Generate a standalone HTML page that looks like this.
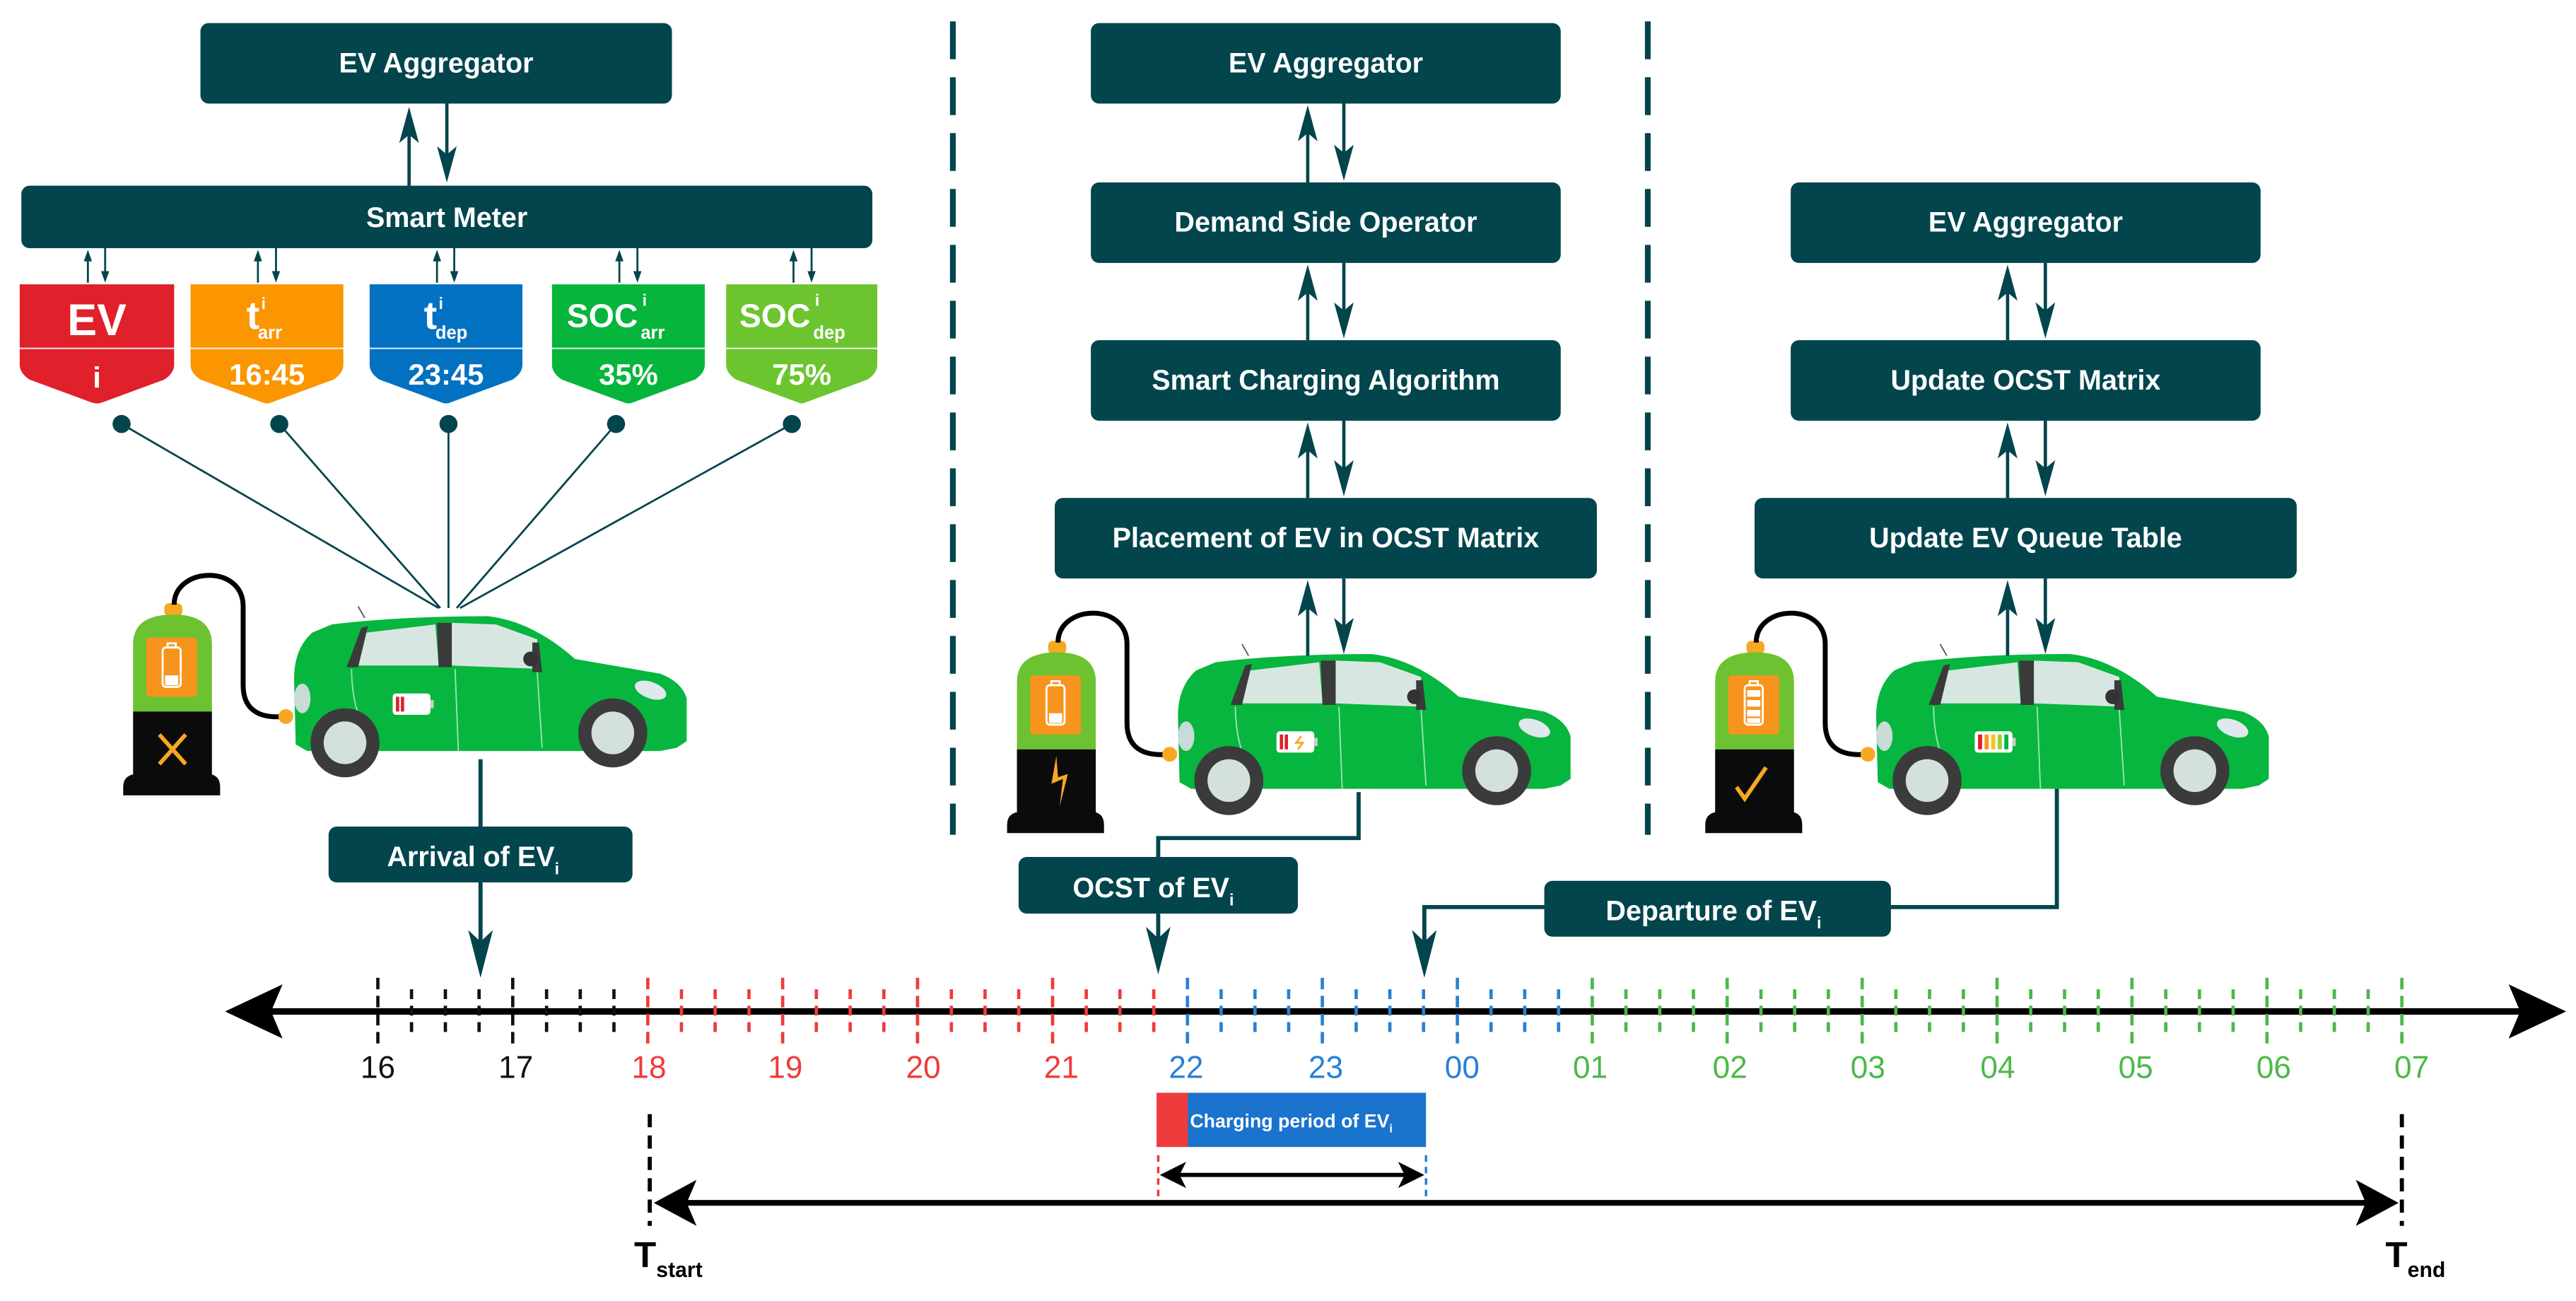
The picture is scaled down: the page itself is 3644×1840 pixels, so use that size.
<!DOCTYPE html>
<html><head><meta charset="utf-8"><style>
html,body{margin:0;padding:0;background:#fff;}
svg{display:block;}
text{font-family:"Liberation Sans",sans-serif;}
.bx{fill:#02454d;}
.bt{fill:#fff;font-weight:bold;font-size:17px;text-anchor:middle;}
.ln{stroke:#02454d;fill:none;}
.ah{fill:#02454d;}
.lab{font-size:19px;text-anchor:middle;}
</style></head><body>
<svg width="3644" height="1840" viewBox="0 0 1568 791.7" xmlns="http://www.w3.org/2000/svg">
<defs>
<g id="car">
  <path d="M717,436 Q717,418 728,408 L740,403 Q780,398 835,398 Q862,401 888,424 L940,433 Q953,438 956,448 L956,474 L950,478 L940,480 L725,480 L718,476 Z" fill="#07b63e"/>
  <path d="M753,428 L761,408 L803,403 L805,428 Z" fill="#d8e6e1"/>
  <path d="M813,428 L813,402 L840,403 L865,412 L865,430 Z" fill="#d8e6e1"/>
  <path d="M749,429 L758,405 L762,404 L756,429 Z M804,402 L813,402 L813,429 L805,429 Z M862,414 L866,414 L868,432 L862,432 Z" fill="#3a3a3a"/>
  <circle cx="861" cy="424" r="4.5" fill="#333"/>
  <ellipse cx="934" cy="443" rx="10" ry="5" fill="#dfe8ec" transform="rotate(20 934 443)"/>
  <ellipse cx="722" cy="448" rx="5" ry="9" fill="#c9dbd6"/>
  <path d="M752,430 Q752,460 768,480 M815,430 L817,480 M865,432 L868,478" stroke="#9be3b0" stroke-width="0.8" fill="none"/>
  <circle cx="748" cy="475" r="21" fill="#3b3b3b"/>
  <circle cx="748" cy="475" r="13" fill="#d3e0dc"/>
  <circle cx="911" cy="469" r="21" fill="#3b3b3b"/>
  <circle cx="911" cy="469" r="13" fill="#d3e0dc"/>
  <line x1="760" y1="399" x2="756" y2="392" stroke="#555" stroke-width="0.8"/>
  <rect x="638" y="390" width="11" height="8" rx="3" fill="#f7a823"/>
  <path d="M619,456 L619,415 Q619,397 643.5,397 Q667,397 667,415 L667,456 Z" fill="#6cc230"/>
  <rect x="627" y="411" width="31" height="36" rx="2" fill="#f7941d"/>
  <rect x="619" y="456" width="48" height="40" fill="#0b0b0b"/>
  <path d="M613,507 L613,502 Q613,494 622,494 L664,494 Q672,494 672,502 L672,507 Z" fill="#0b0b0b"/>
  <path d="M644,391 C644,368 686,366 686,392 L686,440 C686,458 700,460 711,459" stroke="#000" stroke-width="3" fill="none"/>
  <circle cx="712" cy="459" r="4.5" fill="#f7a823"/>
</g>
</defs>

<line x1="580" y1="13" x2="580" y2="508" stroke="#02454d" stroke-width="3.5" stroke-dasharray="23 11"/>
<line x1="1003" y1="13" x2="1003" y2="508" stroke="#02454d" stroke-width="3.5" stroke-dasharray="23 11"/>

<rect class="bx" x="122" y="14" width="287" height="49" rx="5"/>
<text class="bt" x="265.5" y="44">EV Aggregator</text>
<rect class="bx" x="13" y="113" width="518" height="38" rx="5"/>
<text class="bt" x="272" y="138">Smart Meter</text>
<line class="ln" x1="249" y1="113" x2="249" y2="75" stroke-width="2"/>
<path class="ah" d="M249,65 L255,87 L249,82 L243,87 Z"/>
<line class="ln" x1="272" y1="63" x2="272" y2="100" stroke-width="2"/>
<path class="ah" d="M272,111 L278,89 L272,94 L266,89 Z"/>

<g stroke="#02454d" stroke-width="1.2" fill="none">
<line x1="53.5" y1="172" x2="53.5" y2="155"/><line x1="64" y1="151" x2="64" y2="168"/>
<line x1="157" y1="172" x2="157" y2="155"/><line x1="168" y1="151" x2="168" y2="168"/>
<line x1="266" y1="172" x2="266" y2="155"/><line x1="276.5" y1="151" x2="276.5" y2="168"/>
<line x1="377" y1="172" x2="377" y2="155"/><line x1="388" y1="151" x2="388" y2="168"/>
<line x1="483" y1="172" x2="483" y2="155"/><line x1="494" y1="151" x2="494" y2="168"/>
</g>
<g fill="#02454d">
<path d="M53.5,152 L56,159 L51,159 Z"/><path d="M64,172 L66.5,165 L61.5,165 Z"/>
<path d="M157,152 L159.5,159 L154.5,159 Z"/><path d="M168,172 L170.5,165 L165.5,165 Z"/>
<path d="M266,152 L268.5,159 L263.5,159 Z"/><path d="M276.5,172 L279,165 L274,165 Z"/>
<path d="M377,152 L379.5,159 L374.5,159 Z"/><path d="M388,172 L390.5,165 L385.5,165 Z"/>
<path d="M483,152 L485.5,159 L480.5,159 Z"/><path d="M494,172 L496.5,165 L491.5,165 Z"/>
</g>

<g>
<path d="M12,173 L106,173 L106,222 Q106,227 100,231 L62,245 Q59,246 56,245 L18,231 Q12,227 12,222 Z" fill="#e0202a"/>
<path d="M116,173 L209,173 L209,222 Q209,227 203,231 L165,245 Q162.5,246 160,245 L122,231 Q116,227 116,222 Z" fill="#fb9500"/>
<path d="M225,173 L318,173 L318,222 Q318,227 312,231 L274,245 Q271.5,246 269,245 L231,231 Q225,227 225,222 Z" fill="#0371c1"/>
<path d="M336,173 L429,173 L429,222 Q429,227 423,231 L385,245 Q382.5,246 380,245 L342,231 Q336,227 336,222 Z" fill="#05b53c"/>
<path d="M442,173 L534,173 L534,222 Q534,227 528,231 L490,245 Q488,246 486,245 L448,231 Q442,227 442,222 Z" fill="#6cc52f"/>
<g stroke="#fff" stroke-width="1" opacity="0.8">
<line x1="12" y1="212" x2="106" y2="212"/><line x1="116" y1="212" x2="209" y2="212"/>
<line x1="225" y1="212" x2="318" y2="212"/><line x1="336" y1="212" x2="429" y2="212"/>
<line x1="442" y1="212" x2="534" y2="212"/>
</g>
<g fill="#fff" font-weight="bold">
<text x="59" y="204" font-size="27" text-anchor="middle">EV</text>
<text x="59" y="236" font-size="18" text-anchor="middle">i</text>
<text x="150" y="200" font-size="24">t</text><text x="159" y="188" font-size="10">i</text><text x="157" y="206" font-size="11">arr</text>
<text x="162.5" y="234" font-size="18" text-anchor="middle">16:45</text>
<text x="258" y="200" font-size="24">t</text><text x="267" y="188" font-size="10">i</text><text x="265" y="206" font-size="11">dep</text>
<text x="271.5" y="234" font-size="18" text-anchor="middle">23:45</text>
<text x="345" y="199" font-size="20">SOC</text><text x="391" y="186" font-size="10">i</text><text x="390" y="206" font-size="11">arr</text>
<text x="382.5" y="234" font-size="18" text-anchor="middle">35%</text>
<text x="450" y="199" font-size="20">SOC</text><text x="496" y="186" font-size="10">i</text><text x="495" y="206" font-size="11">dep</text>
<text x="488" y="234" font-size="18" text-anchor="middle">75%</text>
</g>
</g>
<g fill="#02454d">
<circle cx="74" cy="258" r="5.5"/><circle cx="170" cy="258" r="5.5"/><circle cx="273" cy="258" r="5.5"/><circle cx="375" cy="258" r="5.5"/><circle cx="482" cy="258" r="5.5"/>
</g>
<g stroke="#02454d" stroke-width="1.2">
<line x1="74" y1="258" x2="267" y2="370"/><line x1="170" y1="258" x2="268" y2="370"/>
<line x1="273" y1="258" x2="273" y2="370"/><line x1="375" y1="258" x2="278" y2="370"/>
<line x1="482" y1="258" x2="280" y2="370"/>
</g>

<use href="#car" transform="translate(-538,-23)"/>
<use href="#car"/>
<use href="#car" transform="translate(425,0)"/>

<g fill="none" stroke="#fff" stroke-width="1.2">
<rect x="637" y="417" width="11" height="24" rx="2"/><rect x="640" y="414.5" width="5" height="2.5"/>
<rect x="99" y="394" width="11" height="24" rx="2"/><rect x="102" y="391.5" width="5" height="2.5"/>
<rect x="1062" y="417" width="11" height="24" rx="2"/><rect x="1065" y="414.5" width="5" height="2.5"/>
</g>
<rect x="638.5" y="434" width="8" height="6" fill="#fff"/>
<rect x="100.5" y="411" width="8" height="6" fill="#fff"/>
<g fill="#fff"><rect x="1063.5" y="420" width="8" height="4"/><rect x="1063.5" y="426" width="8" height="4"/><rect x="1063.5" y="432" width="8" height="4"/><rect x="1063.5" y="437" width="8" height="3"/></g>
<path d="M97,447 L113,465 M113,447 L97,465" stroke="#f7a823" stroke-width="2.5"/>
<path d="M643,460 L640,477 L647,474 L645,491 L650,471 L644,473 Z" fill="#f7a823"/>
<path d="M1057,479 L1062,486 L1075,467" stroke="#f7a823" stroke-width="2.5" fill="none"/>
<g>
<rect x="239" y="422" width="23" height="13" rx="2" fill="#fff"/><rect x="262" y="426" width="2" height="5" fill="#ccc"/>
<rect x="241" y="424" width="2" height="9" fill="#e0202a"/><rect x="244" y="424" width="2" height="9" fill="#e0202a"/>
<rect x="777" y="445" width="23" height="13" rx="2" fill="#fff"/><rect x="800" y="449" width="2" height="5" fill="#ccc"/>
<rect x="779" y="447" width="2" height="9" fill="#e0202a"/><rect x="782" y="447" width="2" height="9" fill="#e0202a"/>
<path d="M792,448 L789,452 L793,452 L790,456" stroke="#f7a823" stroke-width="1.2" fill="none"/>
<rect x="1202" y="445" width="23" height="13" rx="2" fill="#fff"/><rect x="1225" y="449" width="2" height="5" fill="#ccc"/>
<rect x="1204" y="447" width="2.5" height="9" fill="#e0202a"/><rect x="1208" y="447" width="2.5" height="9" fill="#f7941d"/><rect x="1212" y="447" width="2.5" height="9" fill="#f7c21d"/><rect x="1216" y="447" width="2.5" height="9" fill="#9bd12f"/><rect x="1220" y="447" width="2.5" height="9" fill="#05b53c"/>
</g>

<rect class="bx" x="664" y="14" width="286" height="49" rx="5"/><text class="bt" x="807" y="44">EV Aggregator</text>
<rect class="bx" x="664" y="111" width="286" height="49" rx="5"/><text class="bt" x="807" y="141">Demand Side Operator</text>
<rect class="bx" x="664" y="207" width="286" height="49" rx="5"/><text class="bt" x="807" y="237">Smart Charging Algorithm</text>
<rect class="bx" x="642" y="303" width="330" height="49" rx="5"/><text class="bt" x="807" y="333">Placement of EV in OCST Matrix</text>
<rect class="bx" x="1090" y="111" width="286" height="49" rx="5"/><text class="bt" x="1233" y="141">EV Aggregator</text>
<rect class="bx" x="1090" y="207" width="286" height="49" rx="5"/><text class="bt" x="1233" y="237">Update OCST Matrix</text>
<rect class="bx" x="1068" y="303" width="330" height="49" rx="5"/><text class="bt" x="1233" y="333">Update EV Queue Table</text>

<g stroke="#02454d" stroke-width="2">
<line x1="796" y1="111" x2="796" y2="75"/><line x1="818" y1="63" x2="818" y2="100"/>
<line x1="796" y1="207" x2="796" y2="172"/><line x1="818" y1="160" x2="818" y2="196"/>
<line x1="796" y1="303" x2="796" y2="268"/><line x1="818" y1="256" x2="818" y2="292"/>
<line x1="796" y1="399" x2="796" y2="364"/><line x1="818" y1="352" x2="818" y2="388"/>
<line x1="1222" y1="207" x2="1222" y2="172"/><line x1="1245" y1="160" x2="1245" y2="196"/>
<line x1="1222" y1="303" x2="1222" y2="268"/><line x1="1245" y1="256" x2="1245" y2="292"/>
<line x1="1222" y1="399" x2="1222" y2="364"/><line x1="1245" y1="352" x2="1245" y2="388"/>
</g>
<g fill="#02454d">
<path d="M796,64 L802,86 L796,81 L790,86 Z"/><path d="M818,110 L824,88 L818,93 L812,88 Z"/>
<path d="M796,161 L802,183 L796,178 L790,183 Z"/><path d="M818,206 L824,184 L818,189 L812,184 Z"/>
<path d="M796,257 L802,279 L796,274 L790,279 Z"/><path d="M818,302 L824,280 L818,285 L812,280 Z"/>
<path d="M796,353 L802,375 L796,370 L790,375 Z"/><path d="M818,398 L824,376 L818,381 L812,376 Z"/>
<path d="M1222,161 L1228,183 L1222,178 L1216,183 Z"/><path d="M1245,206 L1251,184 L1245,189 L1239,184 Z"/>
<path d="M1222,257 L1228,279 L1222,274 L1216,279 Z"/><path d="M1245,302 L1251,280 L1245,285 L1239,280 Z"/>
<path d="M1222,353 L1228,375 L1222,370 L1216,375 Z"/><path d="M1245,398 L1251,376 L1245,381 L1239,376 Z"/>
</g>

<g stroke="#02454d" stroke-width="2.5" fill="none">
<path d="M292.5,462 L292.5,503"/><path d="M292.5,537 L292.5,575"/>
<path d="M827,482 L827,510 L705,510 L705,522"/><path d="M705,556 L705,575"/>
<path d="M1252,480 L1252,552 L1151,552"/><path d="M940,552 L867,552 L867,575"/>
</g>
<g fill="#02454d">
<path d="M292.5,595 L300,566 L292.5,573 L285,566 Z"/>
<path d="M705,593 L712.5,564 L705,571 L697.5,564 Z"/>
<path d="M867,595 L874.5,566 L867,573 L859.5,566 Z"/>
</g>
<rect class="bx" x="200" y="503" width="185" height="34" rx="5"/>
<text class="bt" x="288" y="527" font-size="18">Arrival of EV<tspan font-size="10" dy="5">i</tspan></text>
<rect class="bx" x="620" y="521.5" width="170" height="34.5" rx="5"/>
<text class="bt" x="702" y="546" font-size="18">OCST of EV<tspan font-size="10" dy="5">i</tspan></text>
<rect class="bx" x="940" y="536" width="211" height="34" rx="5"/>
<text class="bt" x="1043" y="560" font-size="18">Departure of EV<tspan font-size="10" dy="5">i</tspan></text>

<line x1="160" y1="615.5" x2="1540" y2="615.5" stroke="#000" stroke-width="4"/>
<path d="M137,615.5 L172,599 L165,615.5 L172,632 Z" fill="#000"/>
<path d="M1562,615.5 L1527,599 L1534,615.5 L1527,632 Z" fill="#000"/>

<g stroke-width="2" stroke-dasharray="7 4">
<path stroke="#111" d="M230,595V636M312.1,595V636"/>
<path stroke="#ee3b3b" d="M394.3,595V636M476.4,595V636M558.5,595V636M640.7,595V636"/>
<path stroke="#2a7fd4" d="M722.8,595V636M804.9,595V636M887.1,595V636"/>
<path stroke="#4cb848" d="M969.2,595V636M1051.3,595V636M1133.5,595V636M1215.6,595V636M1297.7,595V636M1379.9,595V636M1462,595V636"/>
</g>
<g stroke-width="2" stroke-dasharray="6 4">
<path stroke="#111" d="M250.5,602V628M271.1,602V628M291.6,602V628M332.7,602V628M353.2,602V628M373.7,602V628"/>
<path stroke="#ee3b3b" d="M414.8,602V628M435.3,602V628M455.9,602V628M496.9,602V628M517.5,602V628M538,602V628M579.1,602V628M599.6,602V628M620.1,602V628M661.2,602V628M681.7,602V628M702.3,602V628"/>
<path stroke="#2a7fd4" d="M743.3,602V628M763.9,602V628M784.4,602V628M825.5,602V628M846,602V628M866.5,602V628M907.6,602V628M928.1,602V628M948.7,602V628"/>
<path stroke="#4cb848" d="M989.7,602V628M1010.3,602V628M1030.8,602V628M1071.9,602V628M1092.4,602V628M1112.9,602V628M1154,602V628M1174.5,602V628M1195.1,602V628M1236.1,602V628M1256.7,602V628M1277.2,602V628M1318.3,602V628M1338.8,602V628M1359.3,602V628M1400.4,602V628M1420.9,602V628M1441.5,602V628"/>
</g>
<g class="lab">
<text x="230" y="656" fill="#111">16</text><text x="314" y="656" fill="#111">17</text>
<text x="395" y="656" fill="#ee3b3b">18</text><text x="478" y="656" fill="#ee3b3b">19</text><text x="562" y="656" fill="#ee3b3b">20</text><text x="646" y="656" fill="#ee3b3b">21</text>
<text x="722" y="656" fill="#2a7fd4">22</text><text x="807" y="656" fill="#2a7fd4">23</text><text x="890" y="656" fill="#2a7fd4">00</text>
<text x="968" y="656" fill="#4cb848">01</text><text x="1053" y="656" fill="#4cb848">02</text><text x="1137" y="656" fill="#4cb848">03</text><text x="1216" y="656" fill="#4cb848">04</text><text x="1300" y="656" fill="#4cb848">05</text><text x="1384" y="656" fill="#4cb848">06</text><text x="1468" y="656" fill="#4cb848">07</text>
</g>

<rect x="704" y="665" width="20" height="33" fill="#ee3b3b"/>
<rect x="723" y="665" width="145" height="33" fill="#1a73cc"/>
<text x="786" y="686" fill="#fff" font-size="11.5" font-weight="bold" text-anchor="middle">Charging period of EV<tspan font-size="7" dy="3">i</tspan></text>
<line x1="705" y1="703" x2="705" y2="730" stroke="#ee3b3b" stroke-width="1.5" stroke-dasharray="4 3"/>
<line x1="868" y1="703" x2="868" y2="730" stroke="#2a7fd4" stroke-width="1.5" stroke-dasharray="4 3"/>
<line x1="712" y1="715" x2="861" y2="715" stroke="#000" stroke-width="2.5"/>
<path d="M706,715 L722,707 L718,715 L722,723 Z" fill="#000"/>
<path d="M867,715 L851,707 L855,715 L851,723 Z" fill="#000"/>

<line x1="395.5" y1="678" x2="395.5" y2="746" stroke="#000" stroke-width="2.5" stroke-dasharray="8 5"/>
<line x1="1462" y1="678" x2="1462" y2="746" stroke="#000" stroke-width="2.5" stroke-dasharray="8 5"/>
<line x1="405" y1="732" x2="1452" y2="732" stroke="#000" stroke-width="3.5"/>
<path d="M398,732 L424,718 L418,732 L424,746 Z" fill="#000"/>
<path d="M1460,732 L1434,718 L1440,732 L1434,746 Z" fill="#000"/>
<text x="386" y="771" font-size="22" font-weight="bold" fill="#000">T<tspan font-size="13" dy="6">start</tspan></text>
<text x="1452" y="771" font-size="22" font-weight="bold" fill="#000">T<tspan font-size="13" dy="6">end</tspan></text>
</svg>
</body></html>
